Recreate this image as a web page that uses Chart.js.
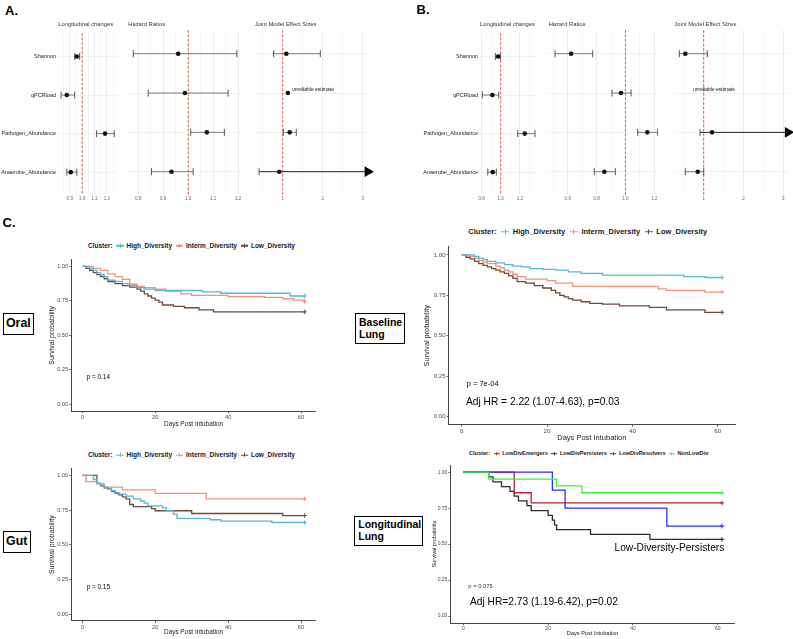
<!DOCTYPE html>
<html>
<head>
<meta charset="utf-8">
<script src="https://cdn.jsdelivr.net/npm/chart.js@4.4.1/dist/chart.umd.min.js"></script>
<style>
  body { margin: 0; background: #fff; width: 793px; height: 639px; position: relative; overflow: hidden;
         font-family: 'Liberation Sans', Arial, sans-serif; }
  canvas { position: absolute; }
  .t { position: absolute; white-space: nowrap; line-height: 1; }
  .box { position: absolute; border: 1.7px solid #000; box-sizing: border-box; font-weight: bold; line-height: 1.1; }
  .lg { position: absolute; display: flex; align-items: center; font-weight: bold; white-space: nowrap; color: #1a1a1a; line-height: 1; }
  .lg span { color: #1a1a1a; }
  .key { position: relative; display: inline-block; width: 1.1em; height: 0.6em; margin: 0 0.45em 0 0.6em; }
  .key::before { content: ''; position: absolute; left: 0; right: 0; top: 50%; height: 1.2px; margin-top: -0.6px; background: var(--c); }
  .key::after { content: ''; position: absolute; left: 50%; top: 0; bottom: 0; width: 1px; margin-left: -0.5px; background: var(--c); }
</style>
</head>
<body>
<script>
// ---- Forest plots (panels A and B) ----
const rowNames = ['Shannon', 'qPCRload', 'Pathogen_Abundance', 'Anaerobe_Abundance'];

const aLongEst = [0.957, 0.876, 1.185, 0.908];
const aLongLow = [0.940, 0.830, 1.117, 0.876];
const aLongHigh = [0.980, 0.940, 1.260, 0.957];
const aHrEst = [0.960, 0.987, 1.075, 0.933];
const aHrLow = [0.780, 0.840, 1.010, 0.853];
const aHrHigh = [1.195, 1.160, 1.145, 1.020];
const aJointEst = [1.09, 1.13, 1.175, 0.915];
const aJointLow = [0.775, null, 1.015, 0.41];
const aJointHigh = [1.94, null, 1.34, 3.5];   // last one runs off the axis -> arrow

const bLongEst = [0.972, 0.913, 1.250, 0.917];
const bLongLow = [0.944, 0.808, 1.177, 0.865];
const bLongHigh = [0.996, 0.979, 1.357, 0.954];
const bHrEst = [0.623, 0.969, 1.152, 0.854];
const bHrLow = [0.512, 0.907, 1.085, 0.784];
const bHrHigh = [0.773, 1.039, 1.224, 0.930];
const bJointEst = [0.538, null, 1.21, 0.85];
const bJointLow = [0.387, null, 0.907, 0.538];
const bJointHigh = [1.09, null, 3.5, 1.0];     // pathogen runs off the axis -> arrow

const aLongTicks = [0.9, 1.0, 1.1, 1.2], aLongMinor = [0.85, 0.95, 1.05, 1.15, 1.25];
const aHrTicks = [0.8, 0.9, 1.0, 1.1, 1.2], aHrMinor = [0.85, 0.95, 1.05, 1.15];
const jointTicks = [1, 2, 3], jointMinor = [0.5, 1.5, 2.5];
const bLongTicks = [0.8, 1.0, 1.2], bLongMinor = [0.9, 1.1, 1.3];
const bHrTicks = [0.6, 0.8, 1.0, 1.2], bHrMinor = [0.5, 0.7, 0.9, 1.1];

// ---- Kaplan-Meier curves (panel C) ----
const daysTicks = [0, 20, 40, 60];
const survTicks = [0, 0.25, 0.5, 0.75, 1];
const diversityClusters = ['High_Diversity', 'Interm_Diversity', 'Low_Diversity'];
const diversityColors = ['#58b7d4', '#f2917a', '#6c4b3b'];
const lungClusters = ['LowDivEmergers', 'LowDivPersisters', 'LowDivResolvers', 'NonLowDiv'];
const lungColors = ['#b3242f', '#2b2b2b', '#2b2bff', '#3ef03e'];

const oralHighDays = [0, 2, 3, 4, 5, 6, 7, 9, 11, 13, 15, 17, 20, 33, 38, 57, 61];
const oralHighSurv = [1, 0.985, 0.97, 0.955, 0.94, 0.925, 0.90, 0.89, 0.875, 0.86, 0.845, 0.835, 0.825, 0.815, 0.805, 0.785, 0.785];
const oralIntermDays = [0, 3, 5, 7, 9, 11, 13, 15, 17, 20, 23, 27, 30, 40, 50, 55, 58, 61];
const oralIntermSurv = [1, 0.985, 0.97, 0.945, 0.925, 0.905, 0.87, 0.855, 0.845, 0.835, 0.82, 0.80, 0.79, 0.78, 0.775, 0.765, 0.755, 0.745];
const oralLowDays = [0, 1, 2, 3, 4, 5, 6, 7, 9, 11, 13, 15, 16, 17, 18, 19, 20, 21, 22, 25, 28, 32, 36, 61];
const oralLowSurv = [1, 0.985, 0.97, 0.955, 0.94, 0.925, 0.91, 0.89, 0.875, 0.86, 0.85, 0.835, 0.82, 0.80, 0.785, 0.77, 0.755, 0.74, 0.72, 0.71, 0.70, 0.685, 0.67, 0.67];

const baseHighDays = [0, 3, 4, 5, 6, 8, 10, 12, 14, 16, 19, 22, 25, 28, 33, 52, 57, 61];
const baseHighSurv = [1, 0.99, 0.98, 0.97, 0.96, 0.95, 0.94, 0.93, 0.925, 0.915, 0.91, 0.905, 0.895, 0.885, 0.875, 0.865, 0.86, 0.86];
const baseIntermDays = [0, 2, 3, 4, 5, 6, 8, 9, 10, 11, 12, 13, 15, 20, 22, 26, 46, 48, 57, 61];
const baseIntermSurv = [1, 0.99, 0.98, 0.965, 0.955, 0.945, 0.93, 0.92, 0.905, 0.895, 0.88, 0.865, 0.85, 0.84, 0.825, 0.805, 0.79, 0.78, 0.77, 0.77];
const baseLowDays = [0, 1, 2, 3, 4, 5, 6, 7, 8, 9, 10, 11, 12, 13, 15, 17, 19, 21, 22, 23, 24, 25, 26, 28, 30, 33, 37, 44, 48, 57, 61];
const baseLowSurv = [1, 0.985, 0.975, 0.96, 0.945, 0.935, 0.925, 0.915, 0.905, 0.895, 0.885, 0.87, 0.855, 0.835, 0.825, 0.81, 0.795, 0.78, 0.765, 0.75, 0.74, 0.73, 0.72, 0.71, 0.70, 0.695, 0.685, 0.675, 0.66, 0.645, 0.645];

const gutHighDays = [0, 3, 4, 5, 6, 7, 8, 9, 10, 12, 14, 16, 17, 18, 22, 23, 25, 26, 35, 38, 52, 61];
const gutHighSurv = [1, 0.97, 0.945, 0.93, 0.915, 0.90, 0.89, 0.875, 0.865, 0.85, 0.83, 0.815, 0.80, 0.78, 0.765, 0.745, 0.72, 0.69, 0.68, 0.67, 0.66, 0.66];
const gutIntermDays = [0, 1, 4, 6, 11, 20, 34, 61];
const gutIntermSurv = [1, 0.955, 0.94, 0.915, 0.895, 0.87, 0.83, 0.83];
const gutLowDays = [0, 4, 5, 6, 7, 8, 9, 10, 11, 12, 13, 14, 19, 20, 30, 55, 61];
const gutLowSurv = [1, 0.94, 0.925, 0.91, 0.90, 0.885, 0.87, 0.86, 0.845, 0.83, 0.79, 0.775, 0.76, 0.745, 0.725, 0.71, 0.71];

const lungEmergDays = [0, 12, 16, 61];
const lungEmergSurv = [1, 0.857, 0.786, 0.786];
const lungPersistDays = [0, 6, 7, 9, 11, 12, 13, 15, 16, 20, 21, 21.5, 22, 30, 44, 61];
const lungPersistSurv = [1, 0.967, 0.933, 0.9, 0.867, 0.833, 0.8, 0.767, 0.733, 0.7, 0.667, 0.633, 0.6, 0.567, 0.533, 0.533];
const lungResolvDays = [0, 21, 24, 48, 61];
const lungResolvSurv = [1, 0.875, 0.75, 0.625, 0.625];
const lungNonLowDays = [0, 6, 22, 28, 61];
const lungNonLowSurv = [1, 0.952, 0.905, 0.857, 0.857];

Chart.defaults.font.family = "'Liberation Sans', Arial, sans-serif";
Chart.defaults.animation = false;
Chart.defaults.responsive = false;
Chart.defaults.events = [];
Chart.defaults.plugins.legend.display = false;
Chart.defaults.plugins.tooltip.enabled = false;

function makeCanvas(p) {
  const c = document.createElement('canvas');
  c.width = p.W; c.height = p.H;
  c.style.left = p.left + 'px'; c.style.top = p.top + 'px';
  document.body.appendChild(c);
  return c;
}

// canvas box so that the chart area lands exactly on L/T/R/B (page pixels)
function place(L, T, R, B, scaleLeft, scaleBottom, extraTop, extraRight) {
  const left = Math.floor(scaleLeft);
  const top = Math.floor(T - extraTop);
  const W = Math.ceil(R + extraRight) - left;
  const H = Math.ceil(scaleBottom) - top;
  return {
    left, top, W, H,
    padding: { left: scaleLeft - left, top: T - top, right: left + W - R, bottom: top + H - scaleBottom },
    yW: L - scaleLeft, xH: scaleBottom - B
  };
}

function text(str, x, y, size, opt = {}) {
  const d = document.createElement('div');
  d.className = 't';
  d.textContent = str;
  d.style.left = x + 'px';
  d.style.top = y + 'px';
  d.style.fontSize = size + 'px';
  d.style.transform = opt.right ? 'translate(-100%,-50%)' : 'translate(0,-50%)';
  if (opt.bold) d.style.fontWeight = 'bold';
  d.style.color = opt.color || '#000';
  document.body.appendChild(d);
}

function boxLabel(lines, x, y, w, h, size, padLeft) {
  const d = document.createElement('div');
  d.className = 'box';
  Object.assign(d.style, { left: x + 'px', top: y + 'px', width: w + 'px', height: h + 'px', fontSize: size + 'px',
    display: 'flex', flexDirection: 'column', justifyContent: 'center',
    alignItems: padLeft == null ? 'center' : 'flex-start', paddingLeft: (padLeft || 0) + 'px' });
  lines.forEach(l => { const s = document.createElement('div'); s.textContent = l; d.appendChild(s); });
  document.body.appendChild(d);
}

function legend(names, colors, x, y, size) {
  const d = document.createElement('div');
  d.className = 'lg';
  Object.assign(d.style, { left: x + 'px', top: y + 'px', fontSize: size + 'px', transform: 'translateY(-50%)' });
  const head = document.createElement('span');
  head.textContent = 'Cluster:';
  d.appendChild(head);
  names.forEach((n, i) => {
    const k = document.createElement('i');
    k.className = 'key';
    k.style.setProperty('--c', colors[i]);
    d.appendChild(k);
    const t = document.createElement('span');
    t.textContent = n;
    d.appendChild(t);
  });
  document.body.appendChild(d);
}

// --- one forest sub-panel ---
function forest(cfg) {
  const T = 30.1, B = 195.3;
  const { L, R, xMin, xMax, major, minor, digits, est, low, high, rowW } = cfg;
  const p = place(L, T, R, B, L - rowW, B + 9, 2, 9);
  const allTicks = [...major, ...minor].sort((a, b) => a - b);
  const datasets = [];

  datasets.push({
    data: est.map((v, i) => (v == null ? null : { x: v, y: i })).filter(Boolean),
    pointRadius: 2.3, backgroundColor: '#111', borderWidth: 0
  });
  est.forEach((v, i) => {
    if (low[i] == null) return;
    const off = high[i] > xMax;
    datasets.push({
      data: [{ x: low[i], y: i }, { x: Math.min(high[i], xMax), y: i }],
      showLine: true, borderColor: off ? '#222' : '#7a7a7a', borderWidth: 1,
      pointStyle: 'line', rotation: 90, pointRadius: [3.5, off ? 0 : 3.5],
      pointBorderColor: '#555', pointBorderWidth: 1
    });
    if (off) {
      datasets.push({
        data: [{ x: xMax, y: i }], pointStyle: 'triangle', rotation: 90, pointRadius: 6.2,
        backgroundColor: '#000', borderWidth: 0, clip: false
      });
    }
  });
  datasets.push({
    type: 'line', data: [{ x: 1, y: -0.6 }, { x: 1, y: 3.6 }],
    borderColor: '#f0504a', borderDash: [2.5, 2], borderWidth: 1, pointRadius: 0
  });

  new Chart(makeCanvas(p), {
    type: 'scatter',
    data: { datasets },
    options: {
      layout: { padding: p.padding, autoPadding: false },
      scales: {
        x: {
          type: 'linear', min: xMin, max: xMax,
          afterBuildTicks: s => { s.ticks = allTicks.map(v => ({ value: v })); },
          afterFit: s => { s.height = p.xH; },
          grid: { drawTicks: false, color: c => (c.tick && major.includes(c.tick.value) ? '#e4e4e4' : '#f2f2f2'), lineWidth: 0.7 },
          border: { display: false },
          ticks: { autoSkip: false, maxRotation: 0, padding: 0.5, color: '#666', font: { size: 4.5 },
                   callback: v => (major.includes(v) ? v.toFixed(digits) : '') }
        },
        y: {
          type: 'linear', reverse: true, min: -0.6, max: 3.6,
          afterBuildTicks: s => { s.ticks = rowNames.map((n, i) => ({ value: i })); },
          afterFit: s => { s.width = p.yW; },
          grid: { drawTicks: false, color: '#ececec', lineWidth: 0.7 },
          border: { display: false },
          ticks: { display: rowW > 0, autoSkip: false, padding: 2, color: '#222', font: { size: 5.5 },
                   callback: v => rowNames[v] }
        }
      }
    }
  });
}

// --- one Kaplan-Meier plot ---
function km(cfg) {
  const { L, T, R, B, yTitleX, xTitleY, tickFont, yTitleFont, xTitleFont, series } = cfg;
  const scaleLeft = yTitleX - yTitleFont * 0.6;
  const scaleBottom = xTitleY + xTitleFont * 0.6;
  const p = place(L, T, R, B, scaleLeft, scaleBottom, 3, 5);
  const axisCommon = {
    type: 'linear',
    grid: { drawOnChartArea: false, drawTicks: true, tickLength: 2, color: '#444', lineWidth: 0.8 },
    border: { display: true, color: '#444', width: 1 }
  };
  new Chart(makeCanvas(p), {
    type: 'line',
    data: {
      datasets: series.map(s => ({
        data: s.days.map((d, i) => ({ x: d, y: s.surv[i] })),
        stepped: true, borderColor: s.color, borderWidth: 1.3, fill: false,
        pointStyle: 'cross', pointBorderColor: s.color, pointBorderWidth: 1,
        pointRadius: c => (c.dataIndex === s.days.length - 1 ? 2.3 : 0)
      }))
    },
    options: {
      layout: { padding: p.padding, autoPadding: false },
      scales: {
        x: {
          ...axisCommon, min: -3.05, max: 64.05,
          afterBuildTicks: s => { s.ticks = daysTicks.map(v => ({ value: v })); },
          afterFit: s => { s.height = p.xH; },
          ticks: { autoSkip: false, maxRotation: 0, padding: 0.8, color: '#4d4d4d', font: { size: tickFont } },
          title: { display: true, text: 'Days Post Intubation', padding: 0, color: '#222', font: { size: xTitleFont } }
        },
        y: {
          ...axisCommon, min: -0.05, max: 1.05,
          afterBuildTicks: s => { s.ticks = survTicks.map(v => ({ value: v })); },
          afterFit: s => { s.width = p.yW; },
          ticks: { autoSkip: false, padding: 1, color: '#4d4d4d', font: { size: tickFont }, callback: v => v.toFixed(2) },
          title: { display: true, text: 'Survival probability', padding: 0, color: '#222', font: { size: yTitleFont } }
        }
      }
    }
  });
}

// ---------- Panel A ----------
text('A.', 5, 10, 13, { bold: true });
forest({ L: 58, R: 117, xMin: 0.805, xMax: 1.282, major: aLongTicks, minor: aLongMinor, digits: 1,
         est: aLongEst, low: aLongLow, high: aLongHigh, rowW: 58 });
forest({ L: 128.3, R: 242.3, xMin: 0.76, xMax: 1.217, major: aHrTicks, minor: aHrMinor, digits: 1,
         est: aHrEst, low: aHrLow, high: aHrHigh, rowW: 0 });
forest({ L: 254.7, R: 367.7, xMin: 0.3, xMax: 3.125, major: jointTicks, minor: jointMinor, digits: 0,
         est: aJointEst, low: aJointLow, high: aJointHigh, rowW: 0 });
text('Longitudinal changes', 58.3, 25, 5.8, { color: '#333' });
text('Hazard Ratios', 128.3, 25, 5.8, { color: '#333' });
text('Joint Model Effect Sizes', 254.7, 25, 5.8, { color: '#333' });
text('unreliable estimate', 292, 89, 5, { color: '#111' });

// ---------- Panel B ----------
text('B.', 416.5, 8.5, 13, { bold: true });
forest({ L: 480, R: 537.7, xMin: 0.784, xMax: 1.385, major: bLongTicks, minor: bLongMinor, digits: 1,
         est: bLongEst, low: bLongLow, high: bLongHigh, rowW: 85 });
forest({ L: 546.7, R: 658.3, xMin: 0.454, xMax: 1.228, major: bHrTicks, minor: bHrMinor, digits: 1,
         est: bHrEst, low: bHrLow, high: bHrHigh, rowW: 0 });
forest({ L: 674.3, R: 788, xMin: 0.261, xMax: 3.118, major: jointTicks, minor: jointMinor, digits: 0,
         est: bJointEst, low: bJointLow, high: bJointHigh, rowW: 0 });
text('Longitudinal changes', 480, 25, 5.8, { color: '#333' });
text('Hazard Ratios', 548.7, 25, 5.8, { color: '#333' });
text('Joint Model Effect Sizes', 674.3, 25, 5.8, { color: '#333' });
text('unreliable estimate', 693, 89, 5, { color: '#111' });

// ---------- Panel C ----------
text('C.', 2.5, 221.5, 13, { bold: true });

km({ L: 71.2, T: 258, R: 315.8, B: 411.3, yTitleX: 52.3, xTitleY: 424, tickFont: 5.7, yTitleFont: 7, xTitleFont: 6.4,
     series: [
       { days: oralHighDays, surv: oralHighSurv, color: diversityColors[0] },
       { days: oralIntermDays, surv: oralIntermSurv, color: diversityColors[1] },
       { days: oralLowDays, surv: oralLowSurv, color: diversityColors[2] }
     ] });
legend(diversityClusters, diversityColors, 88, 245.7, 6.5);
boxLabel(['Oral'], 2.7, 312.7, 31.3, 22.6, 12.4);
text('p = 0.14', 86.7, 377.3, 6.4);

km({ L: 448.7, T: 245.1, R: 735, B: 424.8, yTitleX: 427.3, xTitleY: 438.3, tickFont: 6.2, yTitleFont: 7.3, xTitleFont: 7.5,
     series: [
       { days: baseHighDays, surv: baseHighSurv, color: diversityColors[0] },
       { days: baseIntermDays, surv: baseIntermSurv, color: diversityColors[1] },
       { days: baseLowDays, surv: baseLowSurv, color: diversityColors[2] }
     ] });
legend(diversityClusters, diversityColors, 468.3, 231.7, 7.5);
boxLabel(['Baseline', 'Lung'], 355, 313, 50, 31.3, 10.5, 3);
text('p = 7e-04', 466.7, 384.3, 7.5);
text('Adj HR = 2.22 (1.07-4.63), p=0.03', 466, 402.3, 10.2);

km({ L: 71.2, T: 467.3, R: 315.8, B: 621, yTitleX: 52.3, xTitleY: 632.3, tickFont: 5.7, yTitleFont: 7, xTitleFont: 6.4,
     series: [
       { days: gutHighDays, surv: gutHighSurv, color: diversityColors[0] },
       { days: gutIntermDays, surv: gutIntermSurv, color: diversityColors[1] },
       { days: gutLowDays, surv: gutLowSurv, color: diversityColors[2] }
     ] });
legend(diversityClusters, diversityColors, 88, 455, 6.5);
boxLabel(['Gut'], 2.7, 531, 28, 21.7, 12.4);
text('p = 0.15', 86.7, 586.7, 6.4);

km({ L: 450.4, T: 464.5, R: 734.9, B: 623.2, yTitleX: 434.3, xTitleY: 633.3, tickFont: 5, yTitleFont: 5.6, xTitleFont: 5.6,
     series: [
       { days: lungNonLowDays, surv: lungNonLowSurv, color: lungColors[3] },
       { days: lungResolvDays, surv: lungResolvSurv, color: lungColors[2] },
       { days: lungEmergDays, surv: lungEmergSurv, color: lungColors[0] },
       { days: lungPersistDays, surv: lungPersistSurv, color: lungColors[1] }
     ] });
legend(lungClusters, lungColors, 469, 454, 5.6);
boxLabel(['Longitudinal', 'Lung'], 354.3, 515.7, 69, 30.3, 10.5, 3);
text('p = 0.075', 468.3, 587.3, 5.8, { color: '#333' });
text('Adj HR=2.73 (1.19-6.42), p=0.02', 470, 601.7, 10.2);
text('Low-Diversity-Persisters', 724.3, 547.7, 10.2, { right: true });
</script>
</body>
</html>
